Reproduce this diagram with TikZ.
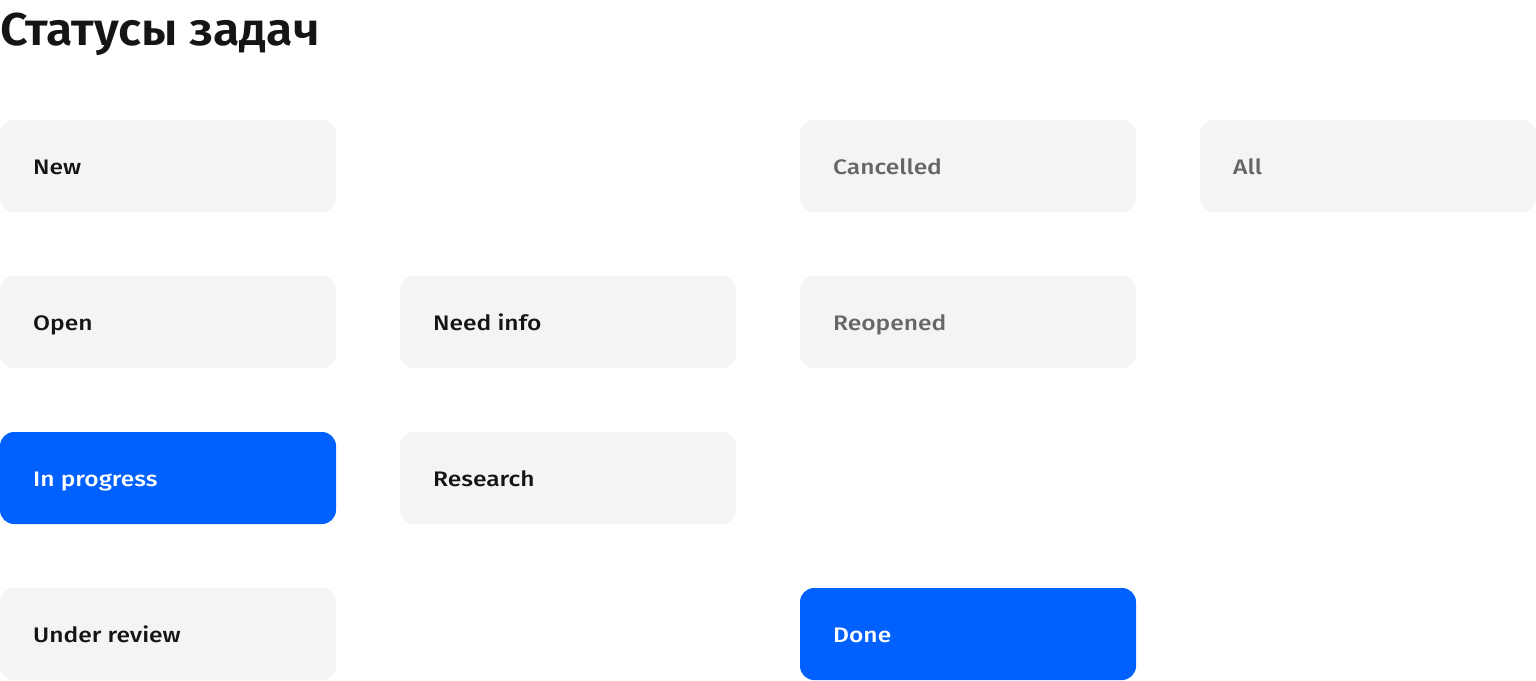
\documentclass[tikz,border=0pt]{standalone}
\usepackage{fontspec}
\setmainfont{Fira Sans}
\newfontfamily\med{Fira Sans Medium}[FakeStretch=1.17]
\newfontfamily\ttl{Fira Sans SemiBold}[FakeStretch=1.05]
\definecolor{boxgrey}{HTML}{F4F4F4}
\definecolor{blueA}{HTML}{0061FE}
\definecolor{txt}{HTML}{151515}
\definecolor{dim}{HTML}{666666}
\begin{document}
\begin{tikzpicture}[x=1pt,y=-1pt,
  stbox/.style={rounded corners=14pt, fill=boxgrey},
  stblue/.style={rounded corners=14pt, fill=blueA},
  lbl/.style={anchor=base west, inner sep=0pt, font=\med\fontsize{21}{25}\selectfont, text=txt},
  lbldim/.style={lbl, text=dim},
  lblwhite/.style={lbl, text=white}]
\useasboundingbox (0,0) rectangle (1536,680);
\node[anchor=base west, inner sep=0pt, font=\ttl\fontsize{46}{50}\selectfont, text=txt] (title) at (0,45) {Статусы задач};
% column 1
\fill[stbox] (0,120) rectangle (336,212);
\node[lbl] (new) at (33,174) {New};
\fill[stbox] (0,276) rectangle (336,368);
\node[lbl] (open) at (33,330) {Open};
\fill[stblue] (0,432) rectangle (336,524);
\node[lblwhite] (inprog) at (33,486) {In progress};
\fill[stbox] (0,588) rectangle (336,680);
\node[lbl] (review) at (33,642) {Under review};
% column 2
\fill[stbox] (400,276) rectangle (736,368);
\node[lbl] (needinfo) at (433,330) {Need info};
\fill[stbox] (400,432) rectangle (736,524);
\node[lbl] (research) at (433,486) {Research};
% column 3
\fill[stbox] (800,120) rectangle (1136,212);
\node[lbldim] (cancelled) at (833,174) {Cancelled};
\fill[stbox] (800,276) rectangle (1136,368);
\node[lbldim] (reopened) at (833,330) {Reopened};
\fill[stblue] (800,588) rectangle (1136,680);
\node[lblwhite] (done) at (833,642) {Done};
% column 4
\fill[stbox] (1200,120) rectangle (1536,212);
\node[lbldim] (all) at (1233,174) {All};
\end{tikzpicture}
\end{document}
